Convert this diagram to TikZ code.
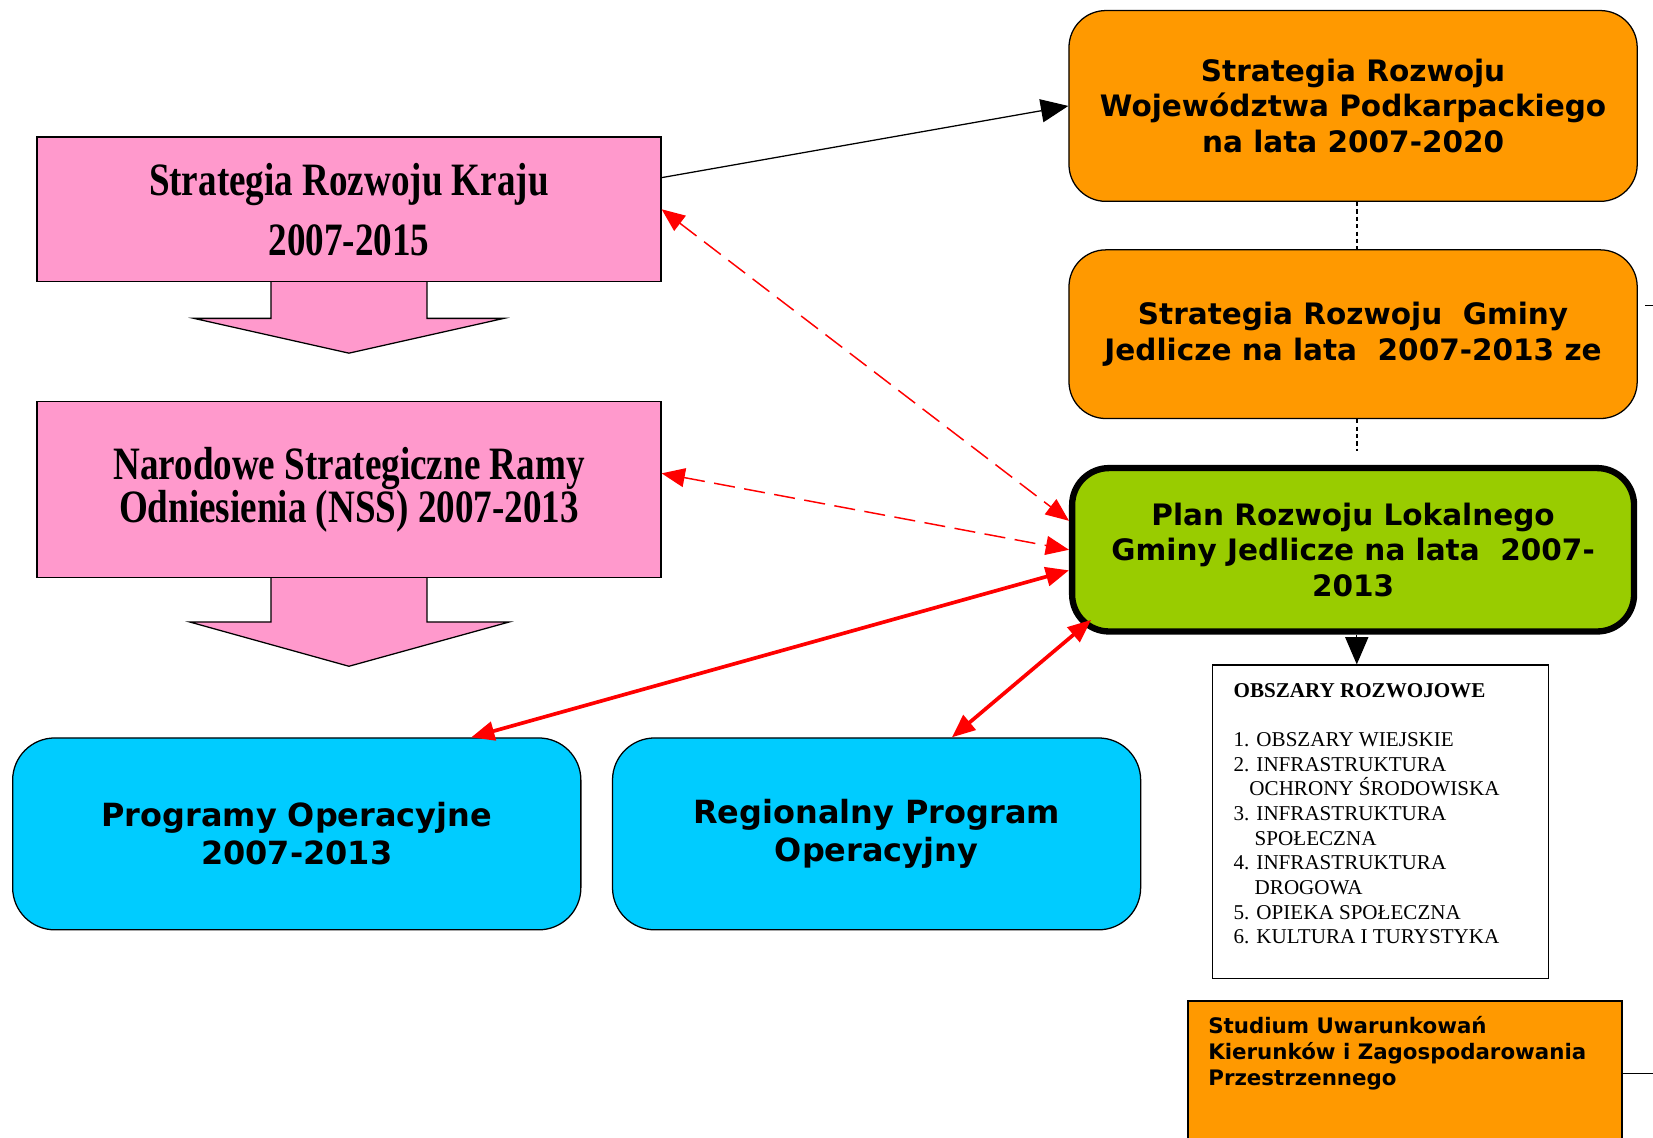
\documentclass[tikz,border=0pt]{standalone}
\usepackage{fontspec}
\setmainfont{Liberation Serif}
\newfontfamily\verd{DejaVu Sans}
\newfontfamily\narrowserif[FakeStretch=0.8]{Liberation Serif}
\usetikzlibrary{arrows.meta}
\definecolor{pinkfill}{HTML}{FF99CC}
\definecolor{orangefill}{HTML}{FF9900}
\definecolor{greenfill}{HTML}{99CC00}
\definecolor{bluefill}{HTML}{00CCFF}

\begin{document}
\begin{tikzpicture}[x=1pt,y=-1pt,
    kbox/.style={draw=black, line width=1.2pt, fill=pinkfill, minimum width=592pt, align=center, font=\narrowserif\bfseries\fontsize{44}{41}\selectfont},
    karrow/.style={draw=black, line width=1.2pt, fill=pinkfill},
    obox/.style={draw=black, line width=1.2pt, fill=orangefill, rounded corners=35pt, minimum width=539pt, align=center, font=\verd\bfseries\fontsize{28}{33.5}\selectfont},
    bbox/.style={draw=black, line width=1.2pt, fill=bluefill, rounded corners=40pt, minimum height=182pt, align=center, font=\verd\bfseries\fontsize{30.3}{36}\selectfont},
    redarr/.style={draw=red, {Triangle[length=22pt,width=18pt]}-{Triangle[length=22pt,width=18pt]}},
    blackarr/.style={draw=black, line width=1.2pt, -{Triangle[length=26pt,width=22pt]}}]
    \clip (0,0) rectangle (1568,1079);
    \fill[white] (0,0) rectangle (1568,1079);
    % pink blocks with down arrows
    \draw[karrow] (257,266) -- (257,302) -- (184,302) -- (331,335) -- (478,302) -- (405,302) -- (405,266);
    \node[kbox, minimum height=137pt] at (331,198.5) (kraju) {Strategia Rozwoju Kraju\\[16pt]2007-2015};
    \draw[karrow] (257,547) -- (257,590) -- (180,590) -- (331,632) -- (483,590) -- (405,590) -- (405,547);
    \node[kbox, minimum height=167pt] at (331,464.5) (nss) {Narodowe Strategiczne Ramy\\Odniesienia (NSS) 2007-2013};
    % orange and green column
    \node[obox, minimum height=181pt] at (1283.5,100.5) (woj) {Strategia Rozwoju\\Województwa Podkarpackiego\\na lata 2007-2020};
    \node[obox, minimum height=160pt] at (1283.5,317) (gminy) {Strategia Rozwoju\ \ Gminy\\Jedlicze na lata\ \ 2007-2013 ze};
    \node[obox, fill=greenfill, line width=6pt, minimum width=533pt, minimum height=155pt] at (1283.5,521.5) (plan) {Plan Rozwoju Lokalnego\\Gminy Jedlicze na lata\ \ 2007-\\2013};
    \coordinate (dotend) at (1287,428);
    \draw[black, line width=1.4pt, dash pattern=on 4pt off 3pt] ([xshift=3.5pt]woj.south) -- ([xshift=3.5pt]gminy.north);
    \draw[black, line width=1.4pt, dash pattern=on 4pt off 3pt] ([xshift=3.5pt]gminy.south) -- (dotend);
    \draw[black, line width=1.2pt] ([xshift=7pt,yshift=27pt]gminy.east) -- ++(12,0);
    % blue blocks
    \node[bbox, minimum width=539pt] at (281.5,791) (prog) {Programy Operacyjne\\2007-2013};
    \node[bbox, minimum width=501pt] at (831.5,791) (rpo) {Regionalny Program\\Operacyjny};
    % areas list
    \node[draw=black, line width=1.5pt, minimum width=319pt, minimum height=297pt] at (1309.5,779.5) (obszary) {};
    \node[anchor=north west, align=left, inner sep=0pt, font=\fontsize{20}{23.4}\selectfont] at (1170,648) (lista) {\textbf{OBSZARY ROZWOJOWE}\\[23.4pt]
        1. OBSZARY WIEJSKIE\\
        2. INFRASTRUKTURA\\
        \hspace*{15pt}OCHRONY ŚRODOWISKA\\
        3. INFRASTRUKTURA\\
        \hspace*{20pt}SPOŁECZNA\\
        4. INFRASTRUKTURA\\
        \hspace*{20pt}DROGOWA\\
        5. OPIEKA SPOŁECZNA\\
        6. KULTURA I TURYSTYKA};
    \node[draw=black, line width=1.5pt, fill=orangefill, anchor=north west, minimum width=412pt, minimum height=160pt] at (1126,949) (studium) {};
    \node[anchor=north west, align=left, inner sep=0pt, font=\verd\bfseries\fontsize{20.25}{24.5}\selectfont] at (1146,964) (studiumtxt) {Studium Uwarunkowań\\Kierunków i Zagospodarowania\\Przestrzennego};
    \draw[black, line width=1.2pt] ([yshift=-69pt]studium.north east) -- ++(40,0);
    % connectors
    \draw[blackarr] ([yshift=30pt]kraju.east) -- (woj.west);
    \draw[blackarr] ([xshift=3.5pt]plan.south) -- ([xshift=-22.5pt]obszary.north);
    \draw[redarr, line width=1.4pt, dash pattern=on 20pt off 9pt] (kraju.east) -- ([yshift=27.5pt]plan.west);
    \draw[redarr, line width=1.4pt, dash pattern=on 20pt off 9pt] ([yshift=15.5pt]nss.east) -- (plan.west);
    \draw[redarr, line width=3.5pt] ([xshift=165.5pt]prog.north) -- ([yshift=-19.5pt]plan.west);
    \draw[redarr, line width=3.5pt] ([xshift=71.5pt]rpo.north) -- ([xshift=21pt,yshift=14pt]plan.south west);
\end{tikzpicture}
\end{document}
